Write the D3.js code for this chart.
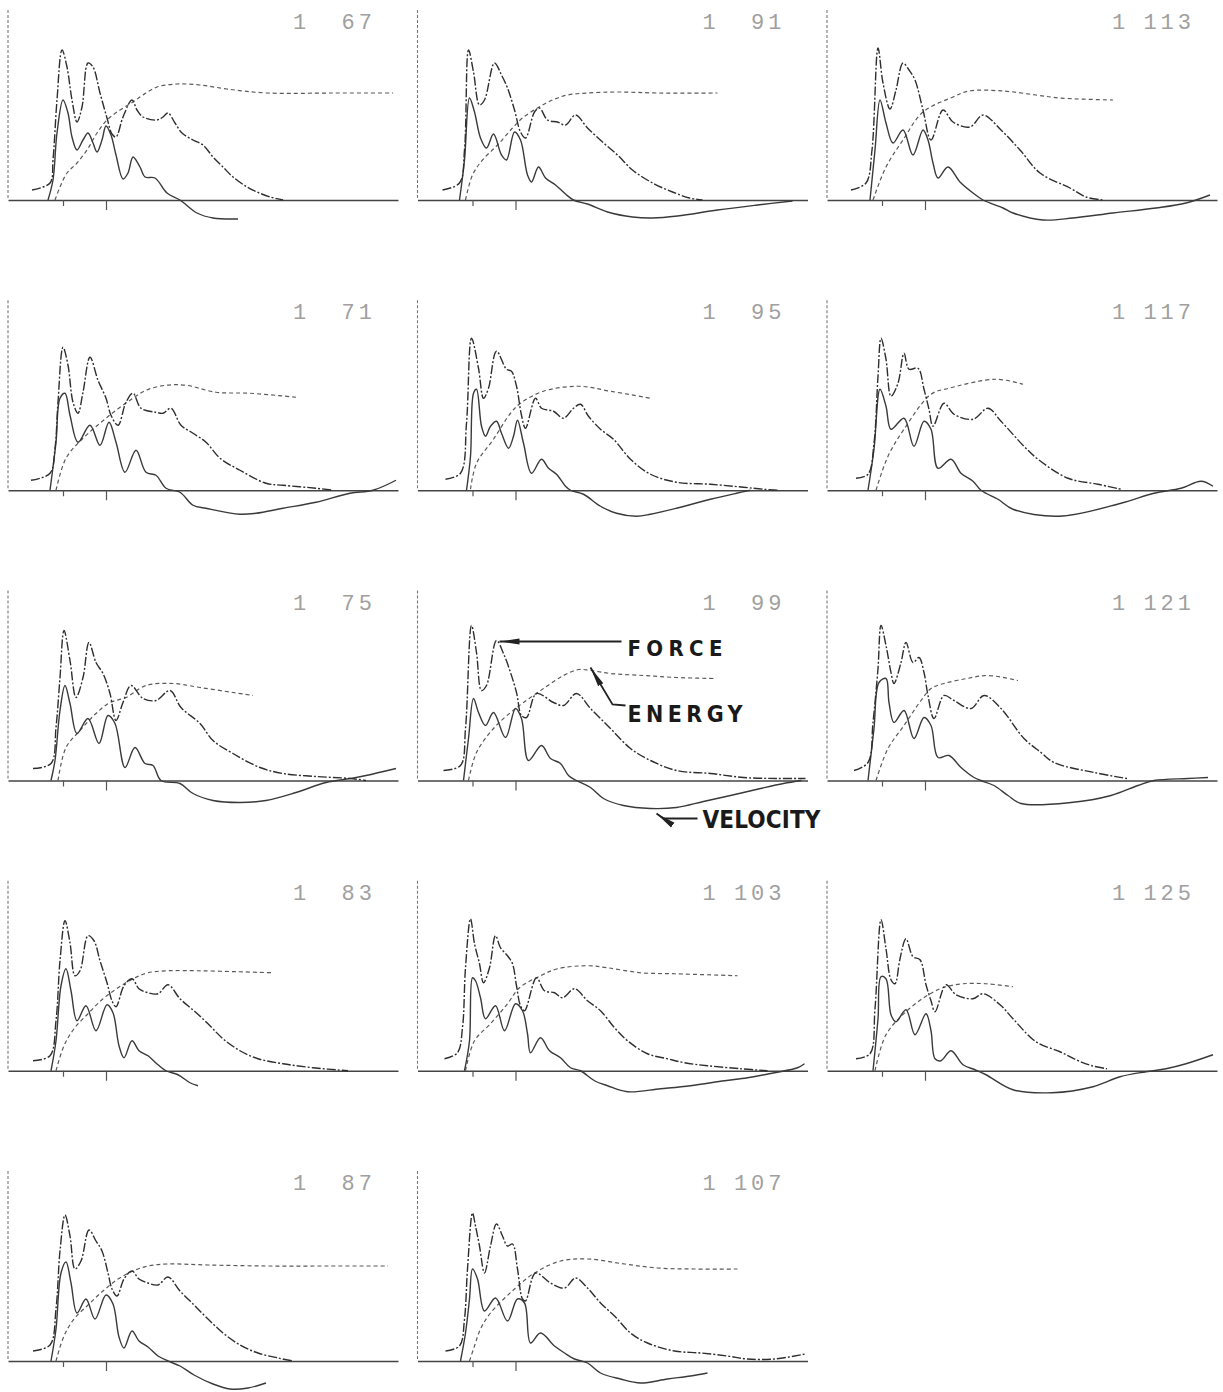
<!DOCTYPE html>
<html>
<head>
<meta charset="utf-8">
<script src="https://cdn.jsdelivr.net/npm/d3@7"></script>
<style>
  body { margin: 0; background: #fff; }
  svg { display: block; }
</style>
</head>
<body>
<svg id="chart" width="1223" height="1392"></svg>
<script>
// Blow record identifiers, one per panel (row by row)
const blowLabels = ["1 67", "1 91", "1 113", "1 71", "1 95", "1 117", "1 75", "1 99", "1 121", "1 83", "1 103", "1 125", "1 87", "1 107"];

// Time marks on each record's time axis
const tickTimes = [55, 98];

// Force traces: [time, amplitude] per panel
const forceCurves = [
  [[24,10],[42,17],[45,40],[49,100],[54,150],[59,133],[64,100],[69,78],[74,93],[80,137],[85,133],[92,107],[99,82],[104,66],[108,63],[115,83],[124,100],[129,90],[135,83],[149,80],[155,83],[160,87],[167,77],[174,67],[185,60],[195,55],[205,43],[215,33],[225,23],[239,13],[249,8],[262,3],[275,0]],
  [[25,10],[42,17],[47,50],[51,150],[56,128],[62,95],[67,100],[77,137],[84,125],[90,112],[97,90],[103,68],[108,62],[117,88],[122,92],[130,80],[140,78],[148,75],[158,85],[170,72],[185,58],[200,45],[215,30],[235,17],[255,8],[272,2],[285,0]],
  [[24,10],[39,17],[45,50],[51,152],[56,117],[63,91],[69,110],[76,137],[82,130],[88,120],[96,90],[104,60],[116,90],[126,78],[143,73],[156,85],[174,70],[193,50],[213,27],[243,12],[259,3],[276,0]],
  [[23,10],[42,17],[47,42],[50,88],[55,143],[60,125],[65,88],[70,77],[75,98],[82,133],[90,110],[98,92],[103,75],[110,65],[118,88],[125,97],[133,82],[148,78],[155,77],[163,82],[173,65],[185,57],[198,48],[212,32],[232,20],[258,7],[275,5],[308,2],[325,0]],
  [[28,11],[43,17],[49,67],[54,152],[61,122],[66,92],[71,102],[79,139],[89,121],[94,119],[99,104],[104,75],[108,62],[118,92],[124,82],[136,79],[146,72],[156,82],[163,86],[171,74],[183,61],[196,51],[213,31],[233,16],[259,8],[293,6],[326,3],[346,1],[360,0]],
  [[29,12],[41,16],[47,47],[51,114],[54,152],[59,131],[64,94],[71,107],[77,137],[82,121],[91,122],[97,101],[102,81],[106,64],[117,87],[127,76],[146,71],[161,82],[174,69],[197,44],[211,31],[241,12],[271,6],[294,1]],
  [[25,12],[43,17],[48,53],[52,103],[56,150],[62,120],[68,83],[75,103],[81,138],[88,118],[95,107],[102,87],[108,60],[115,78],[123,95],[135,82],[148,80],[162,90],[173,73],[192,57],[205,40],[225,27],[252,13],[275,7],[308,4],[342,2],[358,0]],
  [[26,10],[43,15],[48,52],[54,155],[59,128],[64,90],[69,95],[79,140],[86,127],[93,108],[99,88],[104,65],[109,63],[119,87],[136,78],[146,75],[159,87],[173,72],[193,52],[213,32],[233,20],[259,10],[293,7],[326,3],[359,2],[388,2]],
  [[27,10],[41,18],[46,58],[51,112],[54,155],[59,135],[64,108],[67,97],[74,118],[79,138],[86,118],[92,123],[97,108],[101,85],[107,62],[117,85],[127,80],[144,72],[157,85],[174,72],[197,42],[214,28],[227,18],[267,8],[300,2]],
  [[25,10],[42,15],[48,50],[52,110],[57,150],[62,128],[67,95],[72,100],[80,135],[86,130],[92,110],[99,88],[104,70],[108,64],[116,85],[124,92],[131,82],[140,78],[150,77],[160,86],[172,72],[186,60],[200,47],[215,32],[232,20],[250,12],[275,7],[305,3],[340,0]],
  [[27,12],[40,18],[45,43],[48,103],[53,152],[57,127],[62,107],[66,88],[72,103],[78,135],[83,123],[90,115],[95,107],[99,85],[103,65],[107,60],[119,93],[127,80],[137,78],[145,73],[157,82],[170,70],[183,60],[197,43],[210,30],[230,17],[250,12],[267,8],[290,5],[323,2],[350,0]],
  [[29,12],[43,17],[48,62],[54,151],[59,122],[64,91],[68,87],[73,112],[79,132],[86,114],[93,111],[99,86],[104,70],[108,59],[119,86],[129,76],[146,72],[156,77],[173,66],[186,52],[209,29],[233,19],[249,11],[265,5],[280,2]],
  [[25,10],[42,16],[48,52],[52,110],[57,146],[62,125],[67,92],[73,100],[81,131],[88,120],[94,110],[100,88],[104,72],[109,65],[116,82],[124,90],[131,82],[140,78],[150,76],[160,84],[172,70],[186,56],[200,42],[215,28],[232,16],[250,8],[270,3],[285,0]],
  [[28,10],[42,15],[47,42],[50,92],[55,148],[58,135],[62,115],[67,88],[73,115],[79,137],[85,125],[90,115],[95,117],[100,92],[105,62],[108,60],[118,88],[133,78],[147,73],[158,83],[170,73],[183,58],[197,45],[213,28],[230,18],[257,10],[283,8],[310,5],[330,2],[357,2],[388,7]]
];

// Velocity traces: [time, amplitude] per panel
const velocityCurves = [
  [[40,0],[45,20],[49,67],[55,100],[60,87],[64,63],[69,50],[75,60],[80,67],[85,57],[89,48],[94,60],[98,74],[103,65],[108,45],[115,21],[120,27],[125,43],[132,33],[137,23],[147,22],[159,7],[172,0],[189,-13],[205,-18],[230,-19]],
  [[42,0],[47,40],[52,102],[57,88],[63,62],[69,52],[76,66],[84,45],[89,40],[97,68],[103,60],[110,25],[114,18],[121,33],[128,22],[138,15],[148,6],[156,0],[170,-4],[190,-12],[215,-17],[235,-18],[260,-16],[300,-10],[340,-5],[375,-1]],
  [[43,0],[48,50],[53,100],[59,77],[66,57],[76,70],[86,45],[96,70],[101,60],[106,37],[111,22],[121,33],[133,18],[146,7],[156,0],[176,-8],[186,-13],[216,-20],[246,-18],[286,-13],[329,-8],[359,-3],[383,5]],
  [[42,0],[48,48],[52,92],[57,97],[62,75],[70,48],[82,65],[92,45],[101,68],[108,48],[117,18],[128,40],[138,18],[148,15],[158,2],[172,-2],[185,-15],[198,-18],[232,-24],[248,-23],[275,-18],[308,-12],[342,-3],[365,0],[388,10]],
  [[49,0],[53,34],[56,97],[59,101],[64,64],[68,54],[73,64],[79,69],[84,57],[91,42],[96,54],[100,70],[106,47],[114,17],[124,31],[131,22],[139,16],[148,4],[153,0],[166,-4],[183,-16],[199,-23],[219,-26],[233,-24],[259,-18],[293,-9],[319,-3],[333,0]],
  [[41,0],[47,41],[53,101],[59,84],[64,61],[77,72],[87,44],[97,69],[104,61],[111,22],[124,31],[134,17],[146,9],[154,0],[171,-9],[186,-19],[232,-26],[294,-13],[327,-3],[354,2],[374,9],[386,4]],
  [[43,0],[47,20],[52,70],[57,95],[62,77],[69,47],[80,62],[91,37],[100,65],[107,57],[117,13],[127,33],[137,17],[145,15],[153,0],[172,-3],[185,-13],[205,-20],[232,-22],[258,-20],[288,-12],[318,-2],[342,2],[358,5],[388,12]],
  [[46,0],[51,42],[56,82],[61,68],[68,55],[76,68],[88,43],[98,72],[104,62],[111,20],[124,35],[133,22],[143,17],[151,5],[159,0],[173,-7],[186,-18],[206,-25],[233,-28],[259,-27],[286,-21],[313,-15],[343,-8],[366,-3],[384,0]],
  [[41,0],[47,52],[52,98],[59,102],[62,78],[67,58],[77,70],[87,42],[97,63],[104,55],[111,23],[122,25],[134,13],[147,3],[154,0],[167,-5],[181,-15],[194,-23],[244,-22],[284,-15],[311,-5],[327,0],[361,2],[381,3]],
  [[43,0],[48,30],[53,85],[58,102],[63,80],[69,50],[78,65],[88,40],[99,66],[105,58],[111,25],[116,13],[124,30],[131,20],[140,15],[150,6],[158,0],[170,-4],[182,-12],[190,-15]],
  [[47,0],[52,30],[55,93],[58,90],[63,73],[68,52],[78,65],[87,40],[98,67],[105,60],[110,37],[113,18],[123,33],[132,20],[143,13],[153,3],[163,0],[177,-10],[190,-15],[210,-21],[243,-18],[273,-15],[307,-10],[330,-7],[357,-2],[380,3],[387,7]],
  [[46,0],[51,52],[54,94],[59,92],[64,56],[69,49],[79,61],[88,36],[99,57],[104,40],[108,12],[114,10],[124,20],[136,6],[148,1],[159,-4],[186,-19],[225,-22],[266,-16],[293,-6],[319,-1],[339,2],[359,7],[386,16]],
  [[43,0],[48,32],[53,88],[58,99],[63,78],[69,48],[78,62],[87,42],[98,66],[105,57],[111,24],[116,13],[124,30],[131,20],[140,14],[150,5],[160,0],[172,-5],[186,-14],[205,-23],[222,-28],[240,-27],[258,-22]],
  [[43,0],[48,28],[52,62],[55,92],[60,82],[67,50],[78,63],[90,40],[100,62],[107,58],[113,18],[123,28],[137,15],[147,8],[157,2],[170,-2],[183,-12],[203,-18],[223,-22],[250,-18],[273,-15],[290,-12]]
];

// Energy traces: [time, amplitude] per panel
const energyCurves = [
  [[47,0],[52,13],[59,27],[69,37],[79,50],[89,67],[99,80],[112,90],[125,98],[135,105],[149,113],[169,116],[192,115],[219,111],[259,107],[325,107],[385,107]],
  [[48,0],[55,25],[65,40],[80,55],[95,72],[105,82],[120,92],[135,100],[150,105],[170,107],[200,108],[240,107],[300,107]],
  [[46,0],[59,33],[76,60],[96,88],[126,103],[142,109],[176,109],[209,105],[233,102],[286,100]],
  [[48,0],[58,32],[75,52],[92,67],[108,80],[125,92],[138,100],[158,105],[178,105],[208,98],[242,97],[288,93]],
  [[53,1],[59,27],[76,51],[93,77],[103,87],[126,99],[161,104],[193,99],[233,92]],
  [[49,0],[61,34],[77,61],[104,96],[122,102],[169,111],[196,106]],
  [[50,0],[58,33],[72,50],[88,67],[102,78],[118,83],[138,95],[165,97],[192,93],[225,88],[245,85]],
  [[51,0],[59,28],[76,52],[93,68],[106,78],[126,92],[146,105],[161,111],[173,110],[193,107],[226,105],[259,103],[296,102]],
  [[49,0],[61,32],[77,55],[94,80],[104,92],[117,97],[140,102],[161,105],[191,100]],
  [[48,0],[56,25],[66,42],[80,57],[95,72],[110,83],[125,92],[140,98],[160,100],[190,100],[230,99],[265,98]],
  [[48,0],[57,30],[73,47],[90,67],[102,83],[123,95],[140,102],[170,105],[190,103],[223,98],[257,97],[320,95]],
  [[48,0],[59,36],[79,59],[103,77],[119,84],[136,87],[159,87],[186,84]],
  [[48,0],[56,25],[66,42],[80,56],[95,70],[110,82],[125,90],[140,95],[160,97],[200,96],[260,95],[320,95],[380,95]],
  [[52,0],[57,15],[63,32],[73,48],[97,72],[117,88],[143,100],[170,102],[207,97],[240,93],[277,92],[320,92]]
];

// Callouts naming the three traces (drawn on one panel)
const calloutPanel = 7;
const callouts = [
  { text: "FORCE",    path: [[82,139],[204,139]], textAt: [210,125], size: 22, width: 95 },
  { text: "ENERGY",   path: [[173,113],[195,76],[208,75]], textAt: [210,59], size: 23, width: 115 },
  { text: "VELOCITY", path: [[239,-33],[246,-38],[280,-38]], textAt: [285,-47], size: 24, width: 118 }
];

const W = 390, H = 190;
const colStep = 409.5, rowStep = 290.25;
const x = d3.scaleLinear().domain([0, 390]).range([0, W]);
const y = d3.scaleLinear().domain([0, 190]).range([H, 0]);
const curve = d3.line()
  .x(d => x(d[0]))
  .y(d => y(d[1]))
  .curve(d3.curveCatmullRom.alpha(0.5));

const svg = d3.select("#chart");

// arrowhead: tip sits on the first point of a callout path, body runs back along it
svg.append("defs").append("marker")
  .attr("id", "head")
  .attr("viewBox", "0 0 20 8")
  .attr("refX", 20).attr("refY", 4)
  .attr("markerWidth", 20).attr("markerHeight", 8)
  .attr("markerUnits", "userSpaceOnUse")
  .attr("orient", "auto-start-reverse")
  .append("path")
  .attr("d", "M20,4 L0,1 L0,7 Z")
  .attr("fill", "#222");

blowLabels.forEach((label, i) => {
  const col = i % 3, row = Math.floor(i / 3);
  const g = svg.append("g")
    .attr("transform", `translate(${8 + col * colStep},${10 + row * rowStep})`);

  // vertical amplitude axis
  g.append("line")
    .attr("x1", 0).attr("x2", 0)
    .attr("y1", y(190)).attr("y2", y(0))
    .attr("stroke", "#777").attr("stroke-width", 1.1)
    .attr("stroke-dasharray", "3,2");

  // time axis with its two marks
  const axis = d3.axisBottom(x).tickValues(tickTimes).tickFormat("").tickSizeOuter(0).tickSizeInner(8);
  const ax = g.append("g").attr("transform", `translate(0,${y(0)})`).call(axis);
  ax.select(".domain").attr("stroke", "#444").attr("stroke-width", 1.6);
  ax.selectAll(".tick line")
    .attr("stroke", "#555").attr("stroke-width", 1.2)
    .attr("y2", (d, k) => k === 0 ? 6 : 10);

  // blow identifier
  const parts = label.split(" ");
  g.append("text")
    .attr("x", 285).attr("y", 19)
    .attr("font-family", "Liberation Mono, DejaVu Sans Mono, monospace")
    .attr("font-size", 22).attr("fill", "#a0a0a0")
    .text(parts[0]);
  g.append("text")
    .attr("x", 368).attr("y", 19)
    .attr("text-anchor", "end")
    .attr("letter-spacing", 4)
    .attr("font-family", "Liberation Mono, DejaVu Sans Mono, monospace")
    .attr("font-size", 22).attr("fill", "#a0a0a0")
    .text(parts[1]);

  // traces
  g.append("path").datum(energyCurves[i])
    .attr("d", curve).attr("fill", "none")
    .attr("stroke", "#5a5a5a").attr("stroke-width", 1.2)
    .attr("stroke-dasharray", "4,3");
  g.append("path").datum(velocityCurves[i])
    .attr("d", curve).attr("fill", "none")
    .attr("stroke", "#3a3a3a").attr("stroke-width", 1.4);
  g.append("path").datum(forceCurves[i])
    .attr("d", curve).attr("fill", "none")
    .attr("stroke", "#2e2e2e").attr("stroke-width", 1.4)
    .attr("stroke-dasharray", "9,2,2,2");

  if (i === calloutPanel) {
    const straight = d3.line().x(d => x(d[0])).y(d => y(d[1]));
    callouts.forEach(c => {
      g.append("path").datum(c.path)
        .attr("d", straight).attr("fill", "none")
        .attr("stroke", "#222").attr("stroke-width", 1.8)
        .attr("marker-start", "url(#head)");
      g.append("text")
        .attr("x", x(c.textAt[0])).attr("y", y(c.textAt[1]))
        .attr("font-family", "DejaVu Sans Condensed, DejaVu Sans, sans-serif")
        .attr("font-weight", "bold")
        .attr("font-size", c.size)
        .attr("fill", "#1a1a1a")
        .attr("textLength", c.width)
        .attr("lengthAdjust", "spacing")
        .text(c.text);
    });
  }
});
</script>
</body>
</html>
